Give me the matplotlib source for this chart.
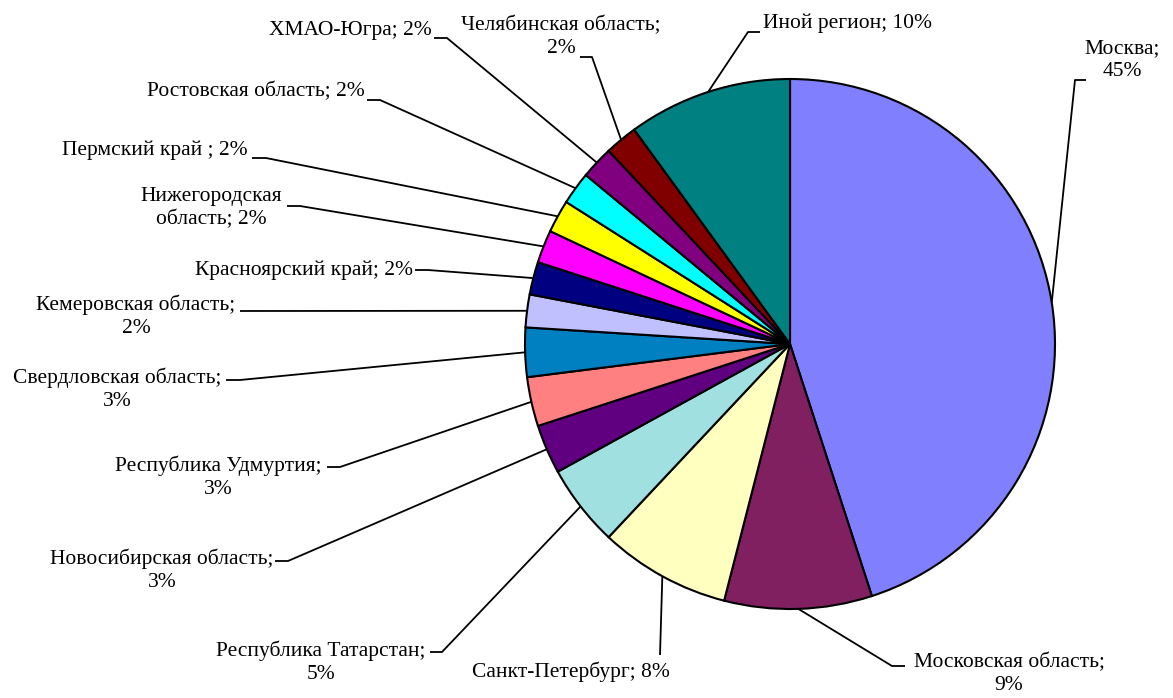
"""Pie chart: distribution by region (recreated)."""

import numpy as np
import matplotlib

matplotlib.use("Agg")
import matplotlib.pyplot as plt

plt.rcParams["font.family"] = ["Liberation Serif", "DejaVu Serif"]

# data, clockwise from 12 o'clock
regions = [
    "Москва",
    "Московская область",
    "Санкт-Петербург",
    "Республика Татарстан",
    "Новосибирская область",
    "Республика Удмуртия",
    "Свердловская область",
    "Кемеровская область",
    "Красноярский край",
    "Нижегородская область",
    "Пермский край ",
    "Ростовская область",
    "ХМАО-Югра",
    "Челябинская область",
    "Иной регион",
]
shares = [45, 9, 8, 5, 3, 3, 3, 2, 2, 2, 2, 2, 2, 2, 10]
colors = [
    "#8080FF", "#802060", "#FFFFC0", "#A0E0E0", "#600080",
    "#FF8080", "#0080C0", "#C0C0FF", "#000080", "#FF00FF",
    "#FFFF00", "#00FFFF", "#800080", "#800000", "#008080",
]
# how each label breaks into lines ("{n}" = region name, "{v}" = percent)
label_formats = [
    "{n};\n{v}%", "{n};\n{v}%", "{n}; {v}%", "{n};\n{v}%", "{n};\n{v}%",
    "{n};\n{v}%", "{n};\n{v}%", "{n};\n{v}%", "{n}; {v}%", "Нижегородская\nобласть; {v}%",
    "{n}; {v}%", "{n}; {v}%", "{n}; {v}%", "{n};\n{v}%", "{n}; {v}%",
]

# layout in pixel coords (y down): label position / alignment, leader elbow and end
label_pos = [
    (1122, 60, "center"), (1009, 674, "center"), (571, 672, "center"),
    (321, 662, "center"), (162, 570, "center"), (218, 477, "center"),
    (117, 389, "center"), (136, 316, "center"), (413, 270, "right"),
    (211, 208, "center"), (248, 150, "right"), (365, 92, "right"),
    (432, 31, "right"), (561, 37, "center"), (763, 23, "left"),
]
leader_pts = [
    [(1075, 80), (1086, 80)], [(892, 666), (905, 666)], [(660, 655)],
    [(442, 652), (430, 652)], [(288, 561), (275, 561)], [(340, 467), (327, 467)],
    [(240, 380), (226, 380)], [(240, 311)], [(428, 270), (415, 270)],
    [(300, 206), (287, 206)], [(266, 158), (252, 158)], [(380, 100), (367, 100)],
    [(447, 38), (434, 38)], [(592, 57), (580, 57)], [(748, 32), (760, 32)],
]

W, H = 1173, 698
CENTER = (790, 344)
RADIUS = 265

fig = plt.figure(figsize=(W / 100, H / 100), dpi=100)
ax = fig.add_axes([0, 0, 1, 1])

# y axis is inverted, so counterclock + startangle -90 runs clockwise from the top
wedges, _ = ax.pie(
    shares,
    colors=colors,
    center=CENTER,
    radius=RADIUS,
    startangle=-90,
    counterclock=True,
    wedgeprops=dict(edgecolor="black", linewidth=1.5),
    frame=True,
)
ax.set_xlim(0, W)
ax.set_ylim(H, 0)
ax.set_aspect("equal")
ax.axis("off")

for wedge, name, val, fmt, (tx, ty, ha), pts in zip(
    wedges, regions, shares, label_formats, label_pos, leader_pts
):
    mid = np.deg2rad((wedge.theta1 + wedge.theta2) / 2)
    x0 = CENTER[0] + RADIUS * np.cos(mid)
    y0 = CENTER[1] + RADIUS * np.sin(mid)
    xs = [x0] + [p[0] for p in pts]
    ys = [y0] + [p[1] for p in pts]
    ax.plot(xs, ys, color="black", linewidth=1.3, solid_capstyle="butt")
    ax.text(
        tx, ty, fmt.format(n=name, v=val),
        ha=ha, va="center", multialignment="center",
        fontsize=15.5, linespacing=1.3,
    )

fig.savefig("out.png", dpi=100)
